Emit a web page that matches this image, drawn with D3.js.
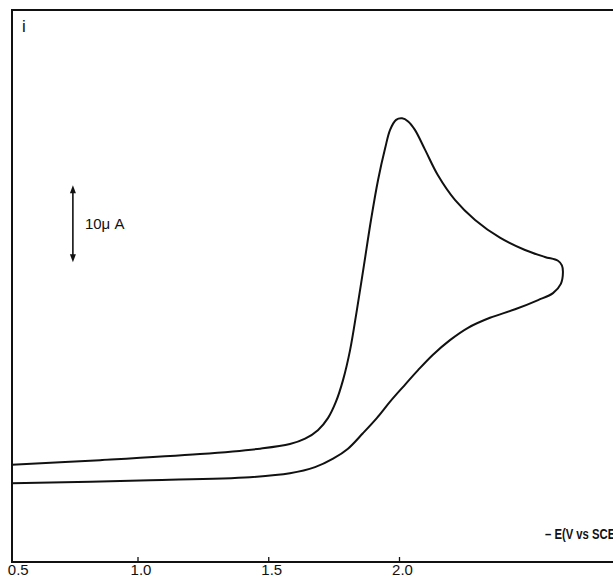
<!DOCTYPE html>
<html>
<head>
<meta charset="utf-8">
<title>Cyclic voltammogram</title>
<script src="https://cdnjs.cloudflare.com/ajax/libs/d3/7.8.5/d3.min.js"></script>
<style>
  body { margin: 0; background: #fff; }
  svg { display: block; }
  text { font-family: "Liberation Sans", Arial, sans-serif; fill: #111; }
</style>
</head>
<body>
<div id="chart"></div>
<script>
// forward scan (cathodic), potential -E in V and current in uA
var forwardE = [0.518, 0.855, 1.237, 1.467, 1.581, 1.639, 1.688, 1.727, 1.757, 1.784, 1.811, 1.837, 1.864, 1.891,
                1.918, 1.945, 1.964, 1.987, 2.010, 2.033, 2.059, 2.098, 2.147, 2.212, 2.289, 2.384, 2.480, 2.556, 2.606, 2.621];
var forwardI = [12.1, 12.7, 13.5, 14.2, 14.8, 15.5, 16.6, 18.2, 20.3, 23.1, 27.0, 32.2, 38.0, 43.9,
                49.1, 53.2, 55.6, 56.9, 57.1, 56.7, 55.6, 53.0, 49.7, 46.5, 43.9, 41.6, 40.0, 39.1, 38.6, 38.0];
// return scan
var reverseE = [2.625, 2.617, 2.587, 2.530, 2.442, 2.346, 2.262, 2.193, 2.128, 2.071, 2.013, 1.964, 1.914,
                1.860, 1.803, 1.746, 1.677, 1.581, 1.428, 1.046, 0.518];
var reverseI = [37.1, 35.6, 34.4, 33.5, 32.3, 31.2, 29.9, 28.3, 26.4, 24.4, 22.2, 20.3, 18.2,
                16.2, 14.2, 12.9, 11.8, 11.0, 10.5, 10.1, 9.7];

var tickValues = [0.5, 1.0, 1.5, 2.0];
var tickLabels = ["0.5", "1.0", "1.5", "2.0"];
var axisTitle = "\u2013 E(V vs SCE)";
var yLabel = "i";
var scaleBarValue = 10;
var scaleBarText = "10\u03bc A";

var W = 613, H = 575;
var mLeft = 12, mTop = 10, mBottom = 562;

var x = d3.scaleLinear().domain([1.0, 2.0]).range([138, 399.5]);
var y = d3.scaleLinear().domain([0, 10]).range([558, 558 - 77]);

var svg = d3.select("#chart").append("svg")
  .attr("width", W).attr("height", H);

// frame (left, top, bottom); right side runs off the page
svg.append("path")
  .attr("d", "M" + (W + 5) + "," + mTop + "H" + mLeft + "V" + mBottom + "H" + (W + 5))
  .attr("fill", "none").attr("stroke", "#111").attr("stroke-width", 2);

// ticks on bottom axis
svg.selectAll(".tick").data(tickValues.slice(1)).enter().append("line")
  .attr("x1", function(d) { return x(d); }).attr("x2", function(d) { return x(d); })
  .attr("y1", mBottom).attr("y2", mBottom - 5)
  .attr("stroke", "#111").attr("stroke-width", 1.3);

svg.selectAll(".tlab").data(tickValues).enter().append("text")
  .attr("x", function(d, i) { return i == 0 ? x(d) + 11 : x(d) + 3; })
  .attr("y", 575)
  .attr("text-anchor", "middle")
  .attr("font-size", 15)
  .text(function(d, i) { return tickLabels[i]; });

svg.append("text")
  .attr("x", 545).attr("y", 539)
  .attr("font-size", 14).attr("font-weight", "bold")
  .attr("textLength", 74).attr("lengthAdjust", "spacingAndGlyphs")
  .text(axisTitle);

svg.append("text")
  .attr("x", 22).attr("y", 32)
  .attr("font-size", 17)
  .attr("font-family", "'Liberation Serif', serif")
  .text(yLabel);

// 10 uA scale bar
var barX = x(0.751), barTop = 48.4;
svg.append("line")
  .attr("x1", barX).attr("x2", barX)
  .attr("y1", y(barTop) + 4).attr("y2", y(barTop - scaleBarValue) - 4)
  .attr("stroke", "#111").attr("stroke-width", 1.6);
[[y(barTop), 1], [y(barTop - scaleBarValue), -1]].forEach(function(p) {
  svg.append("path")
    .attr("d", "M" + barX + "," + p[0] + "l-3," + (8 * p[1]) + "h6z")
    .attr("fill", "#111");
});
svg.append("text")
  .attr("x", x(0.797)).attr("y", y(barTop - scaleBarValue / 2) + 5)
  .attr("font-size", 15)
  .text(scaleBarText);

// the voltammogram
var pts = forwardE.map(function(e, i) { return [e, forwardI[i]]; })
  .concat(reverseE.map(function(e, i) { return [e, reverseI[i]]; }));

var line = d3.line()
  .x(function(d) { return x(d[0]); })
  .y(function(d) { return y(d[1]); })
  .curve(d3.curveCatmullRom.alpha(0.5));

svg.append("path")
  .datum(pts)
  .attr("d", line)
  .attr("fill", "none")
  .attr("stroke", "#111")
  .attr("stroke-width", 2);
</script>
</body>
</html>
